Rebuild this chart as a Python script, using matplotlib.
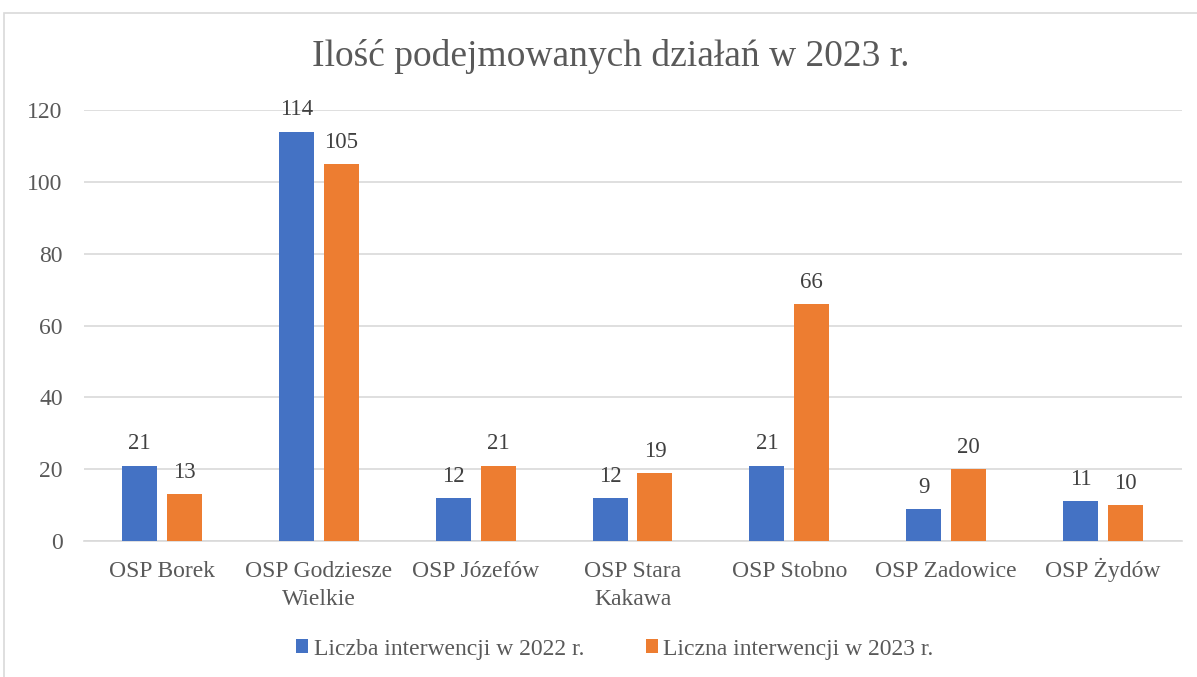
import matplotlib
matplotlib.use("Agg")
import matplotlib.pyplot as plt
import matplotlib.transforms as mtransforms
import numpy as np
from matplotlib.patches import Rectangle

categories = ["OSP Borek", "OSP Godziesze\nWielkie", "OSP Józefów", "OSP Stara\nKakawa",
              "OSP Stobno", "OSP Zadowice", "OSP Żydów"]
series_2022 = [21, 114, 12, 12, 21, 9, 11]
series_2023 = [13, 105, 21, 19, 66, 20, 10]
label_2022 = "Liczba interwencji w 2022 r."
label_2023 = "Liczna interwencji w 2023 r."
title = "Ilość podejmowanych działań w 2023 r."
yticks = [0, 20, 40, 60, 80, 100, 120]

plt.rcParams['font.family'] = ['Liberation Serif', 'DejaVu Serif']

W, H = 1197, 677
fig = plt.figure(figsize=(W / 100, H / 100), dpi=100)
ax = fig.add_axes([83.5 / W, 1 - 541 / H, (1181.5 - 83.5) / W, (541 - 110) / H])

blue = "#4472C4"
orange = "#ED7D31"
x = np.arange(len(categories))
bw = 0.223
off = 0.143
b1 = ax.bar(x - off, series_2022, bw, color=blue, label=label_2022, zorder=3)
b2 = ax.bar(x + off, series_2023, bw, color=orange, label=label_2023, zorder=3)
for bars in (b1, b2):
    ax.bar_label(bars, padding=8, fontsize=16.5, color="#404040")

ax.set_xlim(-0.5, len(categories) - 0.5)
ax.set_ylim(0, 120)
ax.set_yticks(yticks)
ax.set_xticks(x)
ax.set_xticklabels([])
ax.tick_params(axis='both', length=0, labelsize=17, labelcolor="#595959")
ax.tick_params(axis='y', pad=15)

# category labels: each line placed at its own baseline
base = mtransforms.blended_transform_factory(ax.transData, ax.transAxes)
for xi, cat in zip(x, categories):
    for li, line in enumerate(cat.split("\n")):
        tr = mtransforms.offset_copy(base, fig=fig, x=0, y=-(36 + 28 * li), units="dots")
        ax.text(xi, 0, line, transform=tr, ha="center", va="baseline",
                fontsize=17, color="#595959", clip_on=False)

ax.grid(axis='y', color="#D9D9D9", linewidth=1.2, zorder=0)
for s in ["top", "right", "left"]:
    ax.spines[s].set_visible(False)
ax.spines["bottom"].set_color("#D9D9D9")
ax.spines["bottom"].set_linewidth(1.2)

fig.text(611 / W, 1 - 57 / H, title, ha="center", va="center", fontsize=27, color="#595959")

leg = fig.legend(loc="center", bbox_to_anchor=(615 / W, 1 - 649 / H), ncol=2, frameon=False,
                 fontsize=17, labelcolor="#595959", handlelength=0.5, handleheight=0.5,
                 handletextpad=0.25, columnspacing=2.6)

fig.patches.append(Rectangle((4 / W, -0.01), 1.02, 1 - 13 / H + 0.01, transform=fig.transFigure,
                             fill=False, edgecolor="#D9D9D9", linewidth=1.2))

fig.savefig("out.png", dpi=100)
